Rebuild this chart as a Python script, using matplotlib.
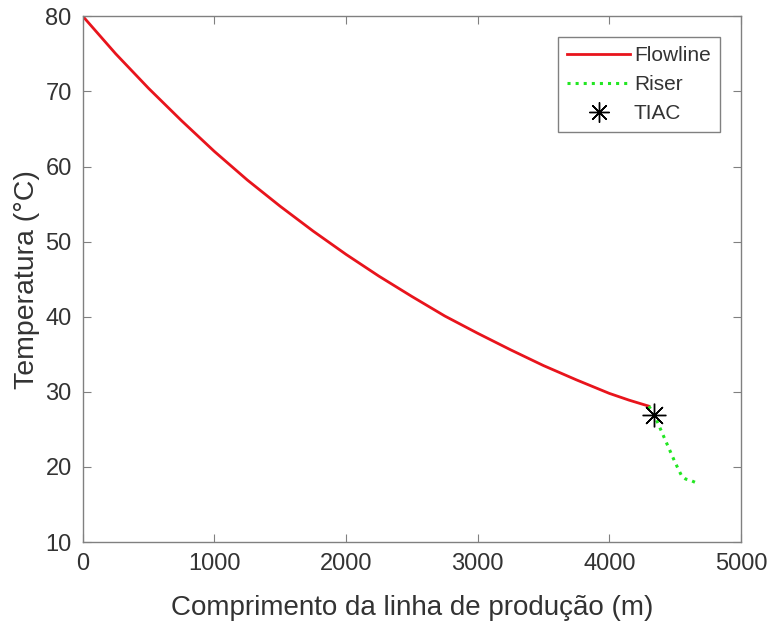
import numpy as np
import matplotlib.pyplot as plt

plt.rcParams['font.family'] = ['Liberation Sans', 'DejaVu Sans']

# Flowline temperature profile (m, degC)
flow_x = [0, 250, 500, 750, 1000, 1250, 1500, 1750, 2000, 2250, 2500,
          2750, 3000, 3250, 3500, 3750, 4000, 4150, 4300]
flow_T = [80.0, 75.0, 70.4, 66.1, 62.0, 58.2, 54.7, 51.4, 48.3, 45.4, 42.7,
          40.1, 37.8, 35.6, 33.5, 31.6, 29.8, 28.9, 28.1]

# Riser temperature profile
riser_x = [4300, 4330, 4360, 4400, 4450, 4500, 4550, 4580, 4620, 4660]
riser_T = [28.1, 27.3, 26.2, 24.6, 22.6, 20.6, 18.8, 18.4, 18.2, 17.9]

# Wax appearance point
tiac_x = [4340]
tiac_T = [26.9]

txt = '#333333'
edge = '#808080'
fig = plt.figure(figsize=(7.67, 6.26), dpi=100)
ax = fig.add_axes([0.108, 0.134, 0.858, 0.840])

ax.plot(flow_x, flow_T, color='#e8141c', linewidth=2.0, label='Flowline')
ax.plot(riser_x, riser_T, color='#22e622', linewidth=2.2, linestyle=':', label='Riser')
ax.plot(tiac_x, tiac_T, linestyle='none', marker=(8, 2, 0), markersize=17,
        markeredgewidth=1.0, color='black', label='TIAC')

ax.set_xlim(0, 5000)
ax.set_ylim(10, 80)
ax.set_xticks([0, 1000, 2000, 3000, 4000, 5000])
ax.set_yticks([10, 20, 30, 40, 50, 60, 70, 80])

ax.set_xlabel('Comprimento da linha de produção (m)', fontsize=20, color=txt, labelpad=14)
ax.set_ylabel('Temperatura (°C)', fontsize=20.5, color=txt, labelpad=4)

ax.tick_params(direction='in', length=6, width=0.8, color=edge,
               labelcolor=txt, labelsize=17, pad=8, top=True, right=True)
for s in ax.spines.values():
    s.set_color(edge)
    s.set_linewidth(1.0)

leg = ax.legend(loc='upper right', fontsize=15, fancybox=False,
                framealpha=1, edgecolor=edge, handlelength=3.0,
                handletextpad=0.2, borderpad=0.45, labelspacing=0.47,
                borderaxespad=1.0, markerscale=0.85)
leg.get_frame().set_linewidth(1.0)
for t in leg.get_texts():
    t.set_color(txt)

plt.savefig('out.png', dpi=100)
